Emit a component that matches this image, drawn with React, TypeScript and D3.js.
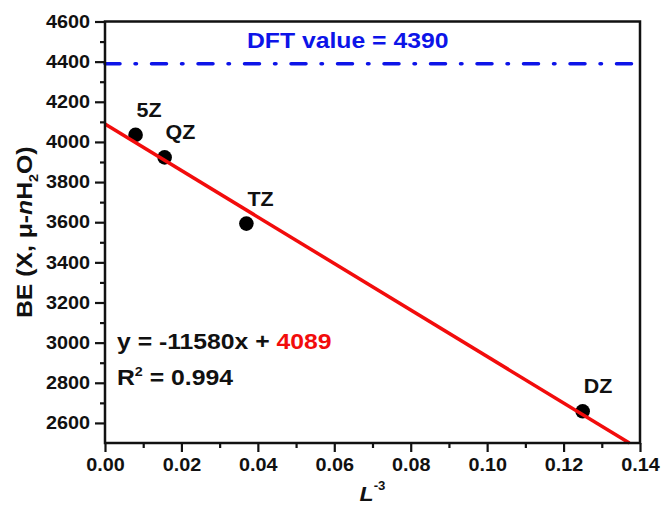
import { useEffect, useRef } from 'react';
import * as d3 from 'd3';

// basis set extrapolation data (x = L^-3, y = binding energy)
const basisSets = ['DZ', 'TZ', 'QZ', '5Z'];
const invL3 = [0.125, 0.037, 0.0156, 0.008];
const bindingEnergy = [2658, 3593, 3923, 4035];

// linear fit and reference value
const fitSlope = -11580;
const fitIntercept = 4089;
const fitR2 = 0.994;
const dftValue = 4390;

// axis ticks
const xTicks = [0, 0.02, 0.04, 0.06, 0.08, 0.1, 0.12, 0.14];
const xMinorTicks = [0.01, 0.03, 0.05, 0.07, 0.09, 0.11, 0.13];
const yTicks = [2600, 2800, 3000, 3200, 3400, 3600, 3800, 4000, 4200, 4400, 4600];
const yMinorTicks = [2700, 2900, 3100, 3300, 3500, 3700, 3900, 4100, 4300, 4500];

const W = 665;
const H = 506;
const margin = { top: 21.5, right: 25, bottom: 63, left: 105 };
const SX = 1.1; // the original lettering is a bit wide
const FONT = '"Liberation Sans", Arial, Helvetica, sans-serif';

function BindingEnergyChart() {
  const ref = useRef<SVGSVGElement>(null);

  useEffect(() => {
    const svg = d3.select(ref.current);
    svg.selectAll('*').remove();

    const x = d3.scaleLinear().domain([0, 0.14]).range([margin.left, W - margin.right]);
    const y = d3.scaleLinear().domain([2500, 4600]).range([H - margin.bottom, margin.top]);

    const g = svg.append('g').attr('font-family', FONT).attr('font-weight', 'bold');

    // DFT reference line
    g.append('line')
      .attr('x1', x(0)).attr('x2', x(0.14))
      .attr('y1', y(dftValue)).attr('y2', y(dftValue))
      .attr('stroke', '#0d14e8')
      .attr('stroke-width', 3.5)
      .attr('stroke-linecap', 'round')
      .attr('stroke-dasharray', '15,15,1.5,15');

    g.append('text')
      .attr('transform', `translate(247,48) scale(${SX},1)`)
      .attr('font-size', 22.5)
      .attr('fill', '#0d14e8')
      .text(`DFT value = ${dftValue}`);

    // data points
    g.selectAll('circle.pt')
      .data(invL3)
      .join('circle')
      .attr('class', 'pt')
      .attr('cx', (d) => x(d))
      .attr('cy', (d, i) => y(bindingEnergy[i]))
      .attr('r', 7.3)
      .attr('fill', '#000');

    g.selectAll('text.lbl')
      .data(basisSets)
      .join('text')
      .attr('class', 'lbl')
      .attr('transform', (d, i) => `translate(${x(invL3[i]) + 1},${y(bindingEnergy[i]) - 18}) scale(${SX},1)`)
      .attr('font-size', 19.5)
      .attr('fill', '#111')
      .text((d) => d);

    // fitted line, clipped at the bottom of the plot
    const xEnd = (y.domain()[0] - fitIntercept) / fitSlope;
    const fitLine = d3.line<number>()
      .x((d) => x(d))
      .y((d) => y(fitSlope * d + fitIntercept));
    g.append('path')
      .attr('d', fitLine([0, xEnd]))
      .attr('fill', 'none')
      .attr('stroke', '#f20c0c')
      .attr('stroke-width', 3.5);

    // equation
    const eq = g.append('text')
      .attr('transform', `translate(117,349) scale(${SX},1)`)
      .attr('font-size', 22.5)
      .style('white-space', 'pre');
    eq.append('tspan').attr('fill', '#111').text(`y = ${fitSlope}x + `);
    eq.append('tspan').attr('fill', '#f20c0c').text(`${fitIntercept}`);

    const r2 = g.append('text')
      .attr('transform', `translate(117,385) scale(${SX},1)`)
      .attr('font-size', 22.5)
      .attr('fill', '#111')
      .style('white-space', 'pre');
    r2.append('tspan').text('R');
    r2.append('tspan').attr('font-size', 13).attr('dy', -9).text('2');
    r2.append('tspan').attr('dy', 9).text(` = ${fitR2}`);

    // axes
    const xAxis = g.append('g').attr('transform', `translate(0,${y(2500)})`);
    xAxis.call(d3.axisBottom(x).tickValues(xTicks).tickSize(9).tickPadding(6).tickFormat(d3.format('.2f')));
    xAxis.append('g').call(d3.axisBottom(x).tickValues(xMinorTicks).tickSize(5).tickFormat(() => ''));

    const yAxis = g.append('g').attr('transform', `translate(${x(0)},0)`);
    yAxis.call(d3.axisLeft(y).tickValues(yTicks).tickSize(10).tickPadding(5).tickFormat(d3.format('d')));
    yAxis.append('g').call(d3.axisLeft(y).tickValues(yMinorTicks).tickSize(5).tickFormat(() => ''));

    g.selectAll('.domain').remove();
    g.selectAll('.tick line').attr('stroke', '#111').attr('stroke-width', 2.2);
    g.selectAll('.tick text')
      .attr('font-family', FONT)
      .attr('font-weight', 'bold')
      .attr('font-size', 18)
      .attr('fill', '#111')
      .each(function () {
        const t = d3.select(this);
        const tx = +t.attr('x') || 0;
        const ty = +t.attr('y') || 0;
        t.attr('x', null).attr('y', null)
          .attr('transform', `translate(${tx},${ty}) scale(${SX},1)`);
      });

    // frame
    g.append('rect')
      .attr('x', x(0)).attr('y', y(4600))
      .attr('width', x(0.14) - x(0))
      .attr('height', y(2500) - y(4600))
      .attr('fill', 'none')
      .attr('stroke', '#111')
      .attr('stroke-width', 2.5);

    // axis titles
    const xl = g.append('text')
      .attr('transform', `translate(${(x(0) + x(0.14)) / 2},501) scale(${SX},1)`)
      .attr('text-anchor', 'middle')
      .attr('font-size', 21)
      .attr('fill', '#111');
    xl.append('tspan').attr('font-style', 'italic').text('L');
    xl.append('tspan').attr('font-size', 12).attr('dy', -11).text('-3');

    const yl = g.append('text')
      .attr('transform', `translate(32,${(y(2500) + y(4600)) / 2}) rotate(-90) scale(${SX},1)`)
      .attr('text-anchor', 'middle')
      .attr('font-size', 22.5)
      .attr('fill', '#111');
    yl.append('tspan').text('BE (X, \u03bc-');
    yl.append('tspan').attr('font-style', 'italic').text('n');
    yl.append('tspan').text('H');
    yl.append('tspan').attr('font-size', 13).attr('dy', 6).text('2');
    yl.append('tspan').attr('dy', -6).text('O)');
  }, []);

  return (
    <svg
      ref={ref}
      width={W}
      height={H}
      style={{ position: 'absolute', left: 0, top: 0, background: '#fff' }}
    />
  );
}

export default function App() {
  return <BindingEnergyChart />;
}
